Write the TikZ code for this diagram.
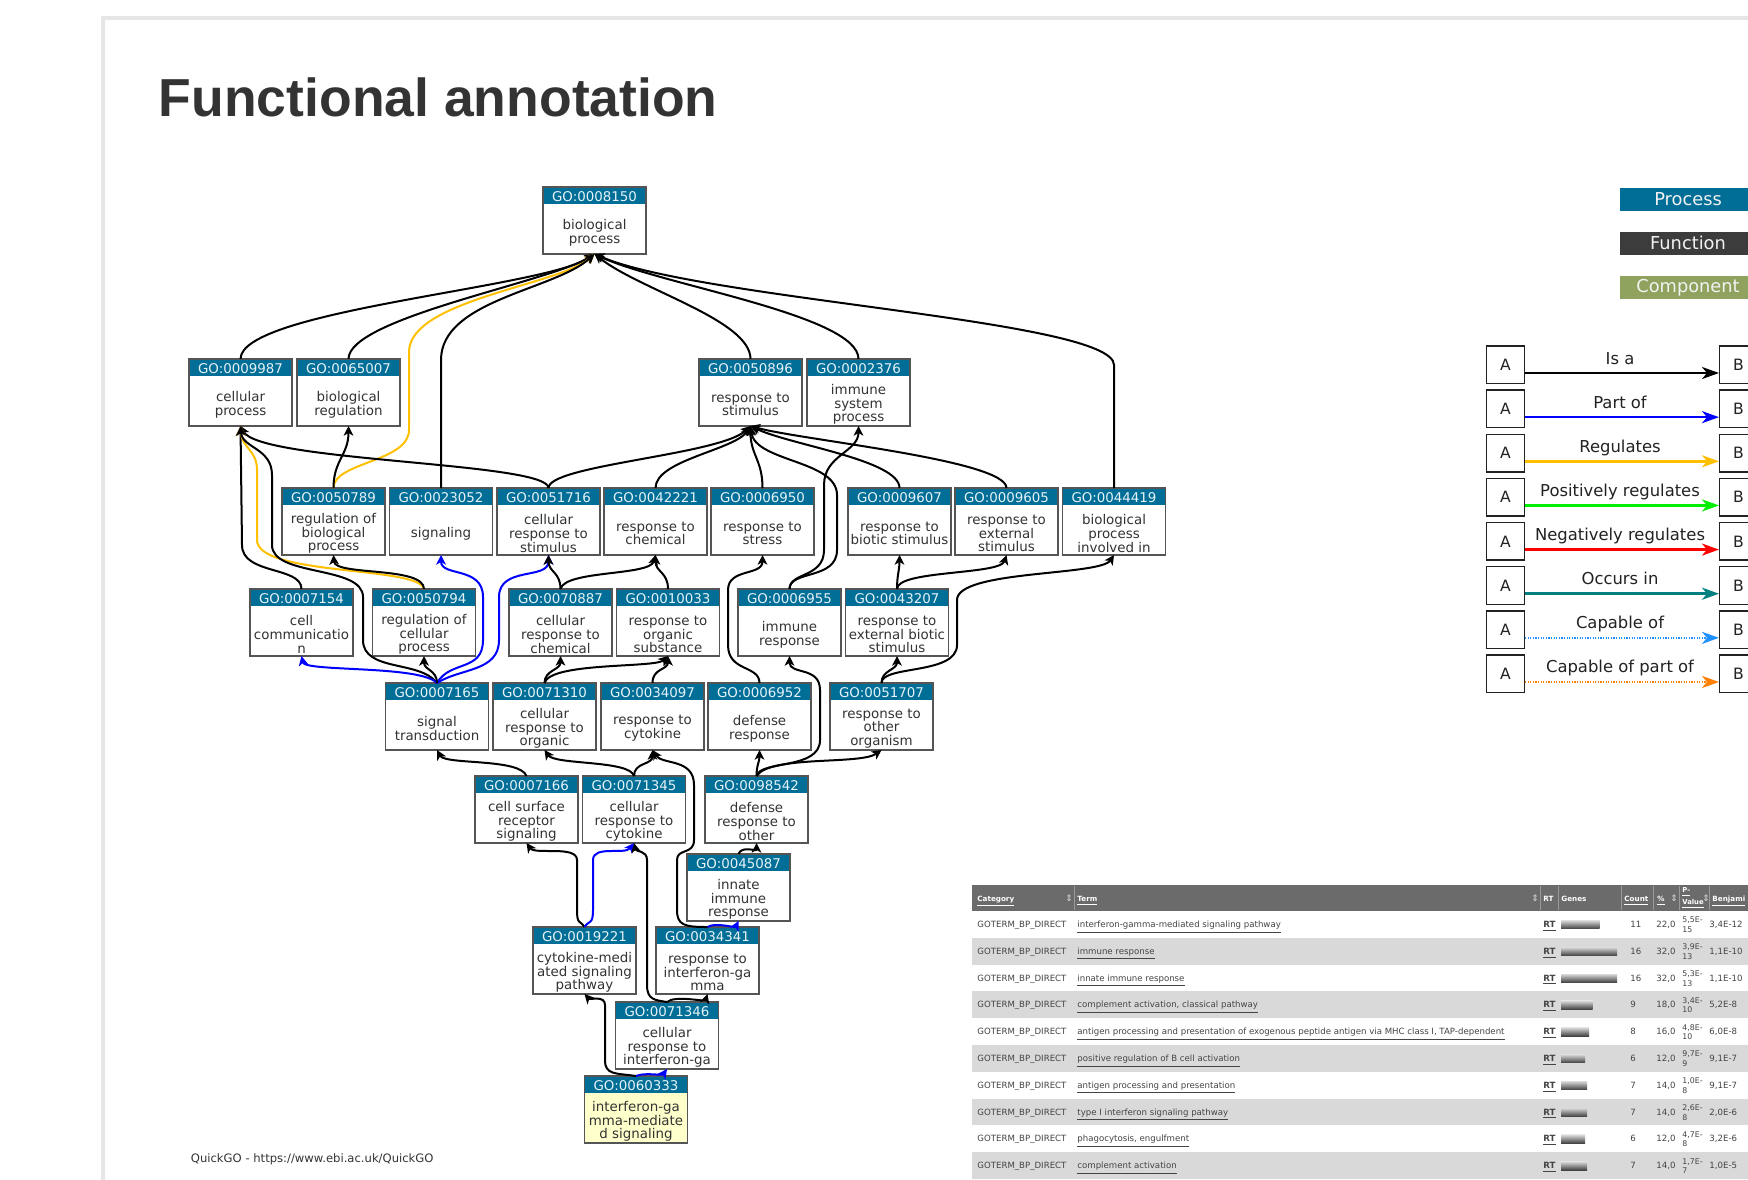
\documentclass[tikz,border=0pt]{standalone}
\usepackage{fontspec}
\setmainfont{DejaVu Sans}
\newfontfamily\titlefont{Liberation Sans}
\usetikzlibrary{arrows.meta}
\definecolor{gohead}{HTML}{006E96}
\definecolor{headtext}{HTML}{E6F2F7}
\definecolor{bodytext}{HTML}{333333}
\definecolor{boxgray}{HTML}{555555}
\definecolor{partblue}{HTML}{0000FF}
\definecolor{regyellow}{HTML}{FFC000}
\definecolor{posgreen}{HTML}{00EE00}
\definecolor{negred}{HTML}{FF0000}
\definecolor{occteal}{HTML}{008080}
\definecolor{capblue}{HTML}{1E90FF}
\definecolor{caporange}{HTML}{FF8000}
\definecolor{funcgray}{HTML}{3C3C3C}
\definecolor{compgreen}{HTML}{8FA35E}
\definecolor{yellowfill}{HTML}{FFFFCC}
\definecolor{framegray}{HTML}{E6E6E6}
\definecolor{titlegray}{HTML}{333333}
\definecolor{tabhead}{HTML}{6B6B6B}
\definecolor{rowgray}{HTML}{D9D9D9}
\definecolor{tabtext}{HTML}{444444}
\definecolor{legtext}{HTML}{222222}
\definecolor{sepgray}{HTML}{9A9A9A}
\newcommand{\gonode}[6][white]{%
  \node[gobox, fill=#1] (#2) at ({#3+51.5},{#4+33.5}) {};
  \fill[gohead] (#2.north west) rectangle ([yshift=-8.5pt]#2.north east);
  \draw[draw=boxgray, line width=0.75pt] (#2.north west) rectangle (#2.south east);
  \node[goid] at ({#3+51.5},{#4+9.3}) {#5};
  \node[gotext] at ({#3+51.5},{#4+45.5}) {#6};
}
\newcommand{\tabrow}[8]{%
  \pgfmathsetmacro{\ry}{911+26.8*(#1-0.5)}
  \node[tabtxt] (cat#1) at (977,\ry+3) {GOTERM\_BP\_DIRECT};
  \node[tabtxt] (term#1) at (1077,\ry+3) {\underline{#2}};
  \node[tabtxt, font=\bfseries\fontsize{4.3pt}{5pt}\selectfont] (rt#1) at (1543,\ry+3) {\underline{RT}};
  \shade[top color=white!70!gray, bottom color=black!75] (1561,\ry-4) rectangle ({1561+#8},\ry+4.5);
  \node[tabtxt] (cnt#1) at (1630,\ry+3) {#3};
  \node[tabtxt] (pct#1) at (1656,\ry+3) {#4};
  \node[tabtxt, font=\fontsize{3.9pt}{4pt}\selectfont] (pa#1) at (1682,\ry-1.5) {#5};
  \node[tabtxt, font=\fontsize{3.9pt}{4pt}\selectfont] (pb#1) at (1682,\ry+8) {#6};
  \node[tabtxt] (bj#1) at (1709,\ry+3) {#7};
}
\tikzset{
  gobox/.style={draw=boxgray, line width=0.75pt, minimum width=51.5pt, minimum height=33.5pt, inner sep=0pt, outer sep=0pt},
  goid/.style={inner sep=0pt, text=headtext, font=\fontsize{6.7pt}{7pt}\selectfont},
  gotext/.style={align=center, text=bodytext, inner sep=0pt, font=\fontsize{6.7pt}{6.85pt}\selectfont},
  isa/.style={line width=1pt, draw=black, -{Stealth[length=4.8pt,width=4.8pt,inset=1.3pt]}},
  partof/.style={isa, draw=partblue},
  regul/.style={isa, draw=regyellow},
  legcat/.style={minimum width=68.5pt, minimum height=11.5pt, inner sep=0pt, text=white!90!gray, font=\fontsize{8.9pt}{9pt}\selectfont},
  legbox/.style={draw=legtext, line width=0.7pt, minimum size=18.8pt, inner sep=0pt, fill=white, text=legtext, font=\fontsize{7.8pt}{8pt}\selectfont},
  leglab/.style={inner sep=0pt, text=legtext, font=\fontsize{8.2pt}{9pt}\selectfont},
  lisa/.style={line width=1.3pt, draw=black, -{Stealth[length=8.5pt,width=6pt,inset=2.5pt]}},
  lpart/.style={lisa, draw=partblue},
  lreg/.style={lisa, draw=regyellow},
  lpos/.style={lisa, draw=posgreen},
  lneg/.style={lisa, draw=negred},
  locc/.style={lisa, draw=occteal},
  lcap/.style={lisa, draw=capblue, dash pattern=on 0.6pt off 0.7pt},
  lcapp/.style={lisa, draw=caporange, dash pattern=on 0.6pt off 0.7pt},
  tabtxt/.style={anchor=base west, inner sep=0pt, text=tabtext, font=\fontsize{4.3pt}{5pt}\selectfont},
  tabhd/.style={anchor=base west, inner sep=0pt, text=white, font=\bfseries\fontsize{3.6pt}{4.2pt}\selectfont},
  tabsort/.style={anchor=west, inner sep=0pt, text=white!70!gray, font=\fontsize{4.5pt}{5pt}\selectfont},
  tabsep/.style={draw=sepgray, line width=0.4pt},
}
\begin{document}
\begin{tikzpicture}[x=0.5pt, y=-0.5pt]
\useasboundingbox (0,0) rectangle (1748,1179);
\clip (0,0) rectangle (1748,1179);
\fill[white] (0,0) rectangle (1748,1179);
% frame
\draw[framegray, line width=2pt] (103,1200) -- (103,18) -- (1770,18);
% title
\node[anchor=base west, inner sep=0pt, text=titlegray, font=\titlefont\bfseries\fontsize{26.75pt}{30pt}\selectfont] (title) at (158.5,116) {Functional annotation};
% footer
\node[anchor=base west, inner sep=0pt, text=bodytext, font=\fontsize{5.8pt}{6pt}\selectfont] (footer) at (190.5,1162) {QuickGO - https://www.ebi.ac.uk/QuickGO};

% ---------- GO nodes ----------
\gonode{n8150}{543}{187}{GO:0008150}{biological\\process}
\gonode{n9987}{189}{359}{GO:0009987}{cellular\\process}
\gonode{n65007}{297}{359}{GO:0065007}{biological\\regulation}
\gonode{n50896}{699}{359}{GO:0050896}{response to\\stimulus}
\gonode{n2376}{807}{359}{GO:0002376}{immune\\system\\process}
\gonode{n50789}{282}{488}{GO:0050789}{regulation of\\biological\\process}
\gonode{n23052}{389.5}{488}{GO:0023052}{signaling}
\gonode{n51716}{497}{488}{GO:0051716}{cellular\\response to\\stimulus}
\gonode{n42221}{604}{488}{GO:0042221}{response to\\chemical}
\gonode{n6950}{711}{488}{GO:0006950}{response to\\stress}
\gonode{n9607}{848}{488}{GO:0009607}{response to\\biotic stimulus}
\gonode{n9605}{955}{488}{GO:0009605}{response to\\external\\stimulus}
\gonode{n44419}{1062.5}{488}{GO:0044419}{biological\\process\\involved in}
\gonode{n7154}{250}{589}{GO:0007154}{cell\\communicatio\\n}
\gonode{n50794}{372.5}{589}{GO:0050794}{regulation of\\cellular\\process}
\gonode{n70887}{509}{589}{GO:0070887}{cellular\\response to\\chemical}
\gonode{n10033}{616.5}{589}{GO:0010033}{response to\\organic\\substance}
\gonode{n6955}{738}{589}{GO:0006955}{immune\\response}
\gonode{n43207}{845.5}{589}{GO:0043207}{response to\\external biotic\\stimulus}
\gonode{n7165}{385.5}{683}{GO:0007165}{signal\\transduction}
\gonode{n71310}{493}{683}{GO:0071310}{cellular\\response to\\organic}
\gonode{n34097}{601}{683}{GO:0034097}{response to\\cytokine}
\gonode{n6952}{708}{683}{GO:0006952}{defense\\response}
\gonode{n51707}{830}{683}{GO:0051707}{response to\\other\\organism}
\gonode{n7166}{475}{776}{GO:0007166}{cell surface\\receptor\\signaling}
\gonode{n71345}{582.5}{776}{GO:0071345}{cellular\\response to\\cytokine}
\gonode{n98542}{705}{776}{GO:0098542}{defense\\response to\\other}
\gonode{n45087}{687}{854}{GO:0045087}{innate\\immune\\response}
\gonode{n19221}{533}{927}{GO:0019221}{cytokine-medi\\ated signaling\\pathway}
\gonode{n34341}{656}{927}{GO:0034341}{response to\\interferon-ga\\mma}
\gonode{n71346}{615.5}{1002}{GO:0071346}{cellular\\response to\\interferon-ga}
\gonode[yellowfill]{n60333}{584.5}{1076}{GO:0060333}{interferon-ga\\mma-mediate\\d signaling}

% ---------- edges ----------
\draw[isa] (n9987.north) .. controls (240.5,310) and (545,288) .. (n8150.south);
\draw[isa] (n65007.north) .. controls (348.5,318) and (550,282) .. (n8150.south);
\draw[regul] (n50789.north) .. controls (333.5,462) and (409,462) .. (409,430) -- (409,352) .. controls (409,300) and (560,285) .. (n8150.south);
\draw[isa] (n23052.north) -- (441,360) .. controls (441,300) and (555,290) .. (n8150.south);
\draw[isa] (n50896.north) .. controls (750.5,320) and (640,290) .. (n8150.south);
\draw[isa] (n2376.north) .. controls (858.5,315) and (660,285) .. (n8150.south);
\draw[isa] (n44419.north) -- (1114,365) .. controls (1114,320) and (700,300) .. (n8150.south);

\draw[isa] (n51716.north) .. controls (548.5,462) and (260,462) .. (n9987.south);
\draw[isa] (n7154.north) .. controls (301.5,566) and (242,575) .. (242,545) -- (n9987.south);
\draw[regul] (n50794.north) .. controls (420,566) and (257,576) .. (257,540) -- (257,470) .. controls (257,450) and (242,448) .. (n9987.south);
\draw[isa] (n7165.north) .. controls (420,660) and (363,672) .. (363,640) -- (363,597) .. controls (363,565) and (272,577) .. (272,545) -- (272,475) .. controls (272,448) and (242,448) .. (n9987.south);

\draw[isa] (n50789.north) .. controls (333.5,460) and (348.5,455) .. (n65007.south);
\draw[isa] (n50794.north) .. controls (424,566) and (335,576) .. (n50789.south);
\draw[partof] (n7165.north) .. controls (450,660) and (483,672) .. (483,640) -- (483,597) .. controls (483,566) and (441,577) .. (n23052.south);
\draw[partof] (n7165.north) .. controls (460,668) and (499,672) .. (499,640) -- (499,597) .. controls (499,566) and (548.5,580) .. (n51716.south);
\draw[isa] (n70887.north) .. controls (560.5,572) and (548.5,572) .. (n51716.south);
\draw[partof] (n7165.north) .. controls (420,665) and (305,672) .. (n7154.south);
\draw[isa] (n7165.north) .. controls (437,670) and (424,670) .. (n50794.south);

\draw[isa] (n51716.north) .. controls (548.5,465) and (720,455) .. (n50896.south);
\draw[isa] (n42221.north) .. controls (655.5,460) and (735,450) .. (n50896.south);
\draw[isa] (n6950.north) .. controls (762.5,460) and (750.5,455) .. (n50896.south);
\draw[isa] (n6955.north) .. controls (789.5,570) and (837,580) .. (837,550) -- (837,495) .. controls (837,460) and (755,462) .. (n50896.south);
\draw[isa] (n9607.north) .. controls (899.5,460) and (790,445) .. (n50896.south);
\draw[isa] (n9605.north) .. controls (1006.5,460) and (800,440) .. (n50896.south);
\draw[isa] (n6955.north) .. controls (789.5,572) and (824,578) .. (824,550) -- (824,485) .. controls (824,455) and (858.5,452) .. (n2376.south);

\draw[isa] (n6952.north) .. controls (759.5,665) and (728,672) .. (728,645) -- (728,590) .. controls (728,568) and (762.5,576) .. (n6950.south);
\draw[isa] (n43207.north) .. controls (897,575) and (899.5,570) .. (n9607.south);
\draw[isa] (n43207.north) .. controls (897,570) and (1000,575) .. (n9605.south);
\draw[isa] (n51707.north) .. controls (881.5,665) and (957,675) .. (957,645) -- (957,600) .. controls (957,570) and (1100,576) .. (n44419.south);

\draw[isa] (n71310.north) .. controls (544.5,670) and (560.5,670) .. (n70887.south);
\draw[isa] (n71310.north) .. controls (550,662) and (655,668) .. (n10033.south);
\draw[isa] (n34097.north) .. controls (652.5,668) and (668,670) .. (n10033.south);
\draw[isa] (n70887.north) .. controls (565,570) and (650,576) .. (n42221.south);
\draw[isa] (n10033.north) .. controls (668,572) and (655.5,572) .. (n42221.south);
\draw[isa] (n98542.north) .. controls (760,760) and (820,770) .. (820,740) -- (820,690) .. controls (820,666) and (789.5,675) .. (n6955.south);
\draw[isa] (n51707.north) .. controls (881.5,670) and (897,670) .. (n43207.south);

\draw[isa] (n7166.north) .. controls (520,758) and (445,765) .. (n7165.south);
\draw[isa] (n71345.north) .. controls (630,760) and (555,765) .. (n71310.south);
\draw[isa] (n71345.north) .. controls (634,762) and (652.5,765) .. (n34097.south);
\draw[isa] (n34341.north) .. controls (684,927) and (677,925) .. (677,910) -- (677,860) .. controls (677,848) and (694,855) .. (694,840) -- (694,785) .. controls (694,758) and (662,765) .. (n34097.south);
\draw[isa] (n98542.north) .. controls (756.5,765) and (759.5,762) .. (n6952.south);
\draw[isa] (n98542.north) .. controls (770,755) and (860,765) .. (n51707.south);
\draw[isa] (n45087.north) .. controls (742,845) and (756.5,852) .. (n98542.south);

\draw[isa] (n19221.north) .. controls (580,920) and (577,925) .. (577,910) -- (577,860) .. controls (577,845) and (535,855) .. (n7166.south);
\draw[partof] (n19221.north) .. controls (589,920) and (593,925) .. (593,910) -- (593,860) .. controls (593,845) and (625,855) .. (n71345.south);
\draw[isa] (n71346.north) .. controls (655,1000) and (647,1000) .. (647,985) -- (647,860) .. controls (647,850) and (636,852) .. (n71345.south);
\draw[isa] (n71346.north) .. controls (675,995) and (705,1002) .. (n34341.south);
\draw[partof] (n34341.north) .. controls (715,922) and (735,928) .. (n45087.south);
\draw[isa] (n60333.north) .. controls (615,1073) and (605,1075) .. (605,1060) -- (605,1005) .. controls (605,995) and (590,1000) .. (n19221.south);
\draw[partof] (n60333.north) .. controls (645,1072) and (662,1076) .. (n71346.south);

% ---------- legend ----------
\node[legcat, fill=gohead] (cproc) at (1688,199.2) {Process};
\node[legcat, fill=funcgray] (cfunc) at (1688,243.2) {Function};
\node[legcat, fill=compgreen] (ccomp) at (1688,287.5) {Component};
\foreach \i/\lab/\sty in {0/{Is a}/lisa,1/{Part of}/lpart,2/{Regulates}/lreg,3/{Positively regulates}/lpos,4/{Negatively regulates}/lneg,5/{Occurs in}/locc,6/{Capable of}/lcap,7/{Capable of part of}/lcapp}{
  \pgfmathsetmacro{\cy}{364.8+44.14*\i}
  \node[legbox] (la\i) at (1505.5,\cy) {A};
  \node[legbox] (lb\i) at (1738.5,\cy) {B};
  \draw[\sty] ([yshift=-4.1pt]la\i.east) -- ([yshift=-4.1pt]lb\i.west);
  \node[leglab, anchor=base] (ll\i) at (1620,\cy-0.8) {\lab};
}

% ---------- table ----------
\fill[tabhead] (972,885) rectangle (1770,911);
\foreach \r in {2,4,6,8,10}{
  \fill[rowgray] (972,{911+26.8*(\r-1)}) rectangle (1770,{911+26.8*\r});
}
\foreach \sx in {1074,1540,1558,1621,1653,1679,1709}{
  \draw[tabsep] (\sx,886) -- (\sx,910);
}
\node[tabhd] (hcat) at (977,901) {\underline{Category}};
\node[tabsort] (s1) at (1065,898.5) {⇕};
\node[tabhd] (hterm) at (1077,901) {\underline{Term}};
\node[tabsort] (s2) at (1531,898.5) {⇕};
\node[tabhd] (hrt) at (1543,901) {RT};
\node[tabhd] (hgen) at (1561,901) {Genes};
\node[tabhd] (hcnt) at (1624,901) {\underline{Count}};
\node[tabhd] (hpct) at (1657,901) {\underline{\%}};
\node[tabsort] (s3) at (1670,898.5) {⇕};
\node[tabhd, anchor=west, align=left, font=\bfseries\fontsize{3.4pt}{4pt}\selectfont] (hpv) at (1682,898) {\underline{P-}\\\underline{Value}};
\node[tabsort] (s4) at (1702,898.5) {⇕};
\node[tabhd] (hbj) at (1712,901) {\underline{Benjami}};
\tabrow{1}{interferon-gamma-mediated signaling pathway}{11}{22,0}{5,5E-}{15}{3,4E-12}{38.5}
\tabrow{2}{immune response}{16}{32,0}{3,9E-}{13}{1,1E-10}{56}
\tabrow{3}{innate immune response}{16}{32,0}{5,3E-}{13}{1,1E-10}{56}
\tabrow{4}{complement activation, classical pathway}{9}{18,0}{3,4E-}{10}{5,2E-8}{31.5}
\tabrow{5}{antigen processing and presentation of exogenous peptide antigen via MHC class I, TAP-dependent}{8}{16,0}{4,8E-}{10}{6,0E-8}{28}
\tabrow{6}{positive regulation of B cell activation}{6}{12,0}{9,7E-}{9}{9,1E-7}{24}
\tabrow{7}{antigen processing and presentation}{7}{14,0}{1,0E-}{8}{9,1E-7}{26}
\tabrow{8}{type I interferon signaling pathway}{7}{14,0}{2,6E-}{8}{2,0E-6}{26}
\tabrow{9}{phagocytosis, engulfment}{6}{12,0}{4,7E-}{8}{3,2E-6}{24}
\tabrow{10}{complement activation}{7}{14,0}{1,7E-}{7}{1,0E-5}{26}
\end{tikzpicture}
\end{document}
